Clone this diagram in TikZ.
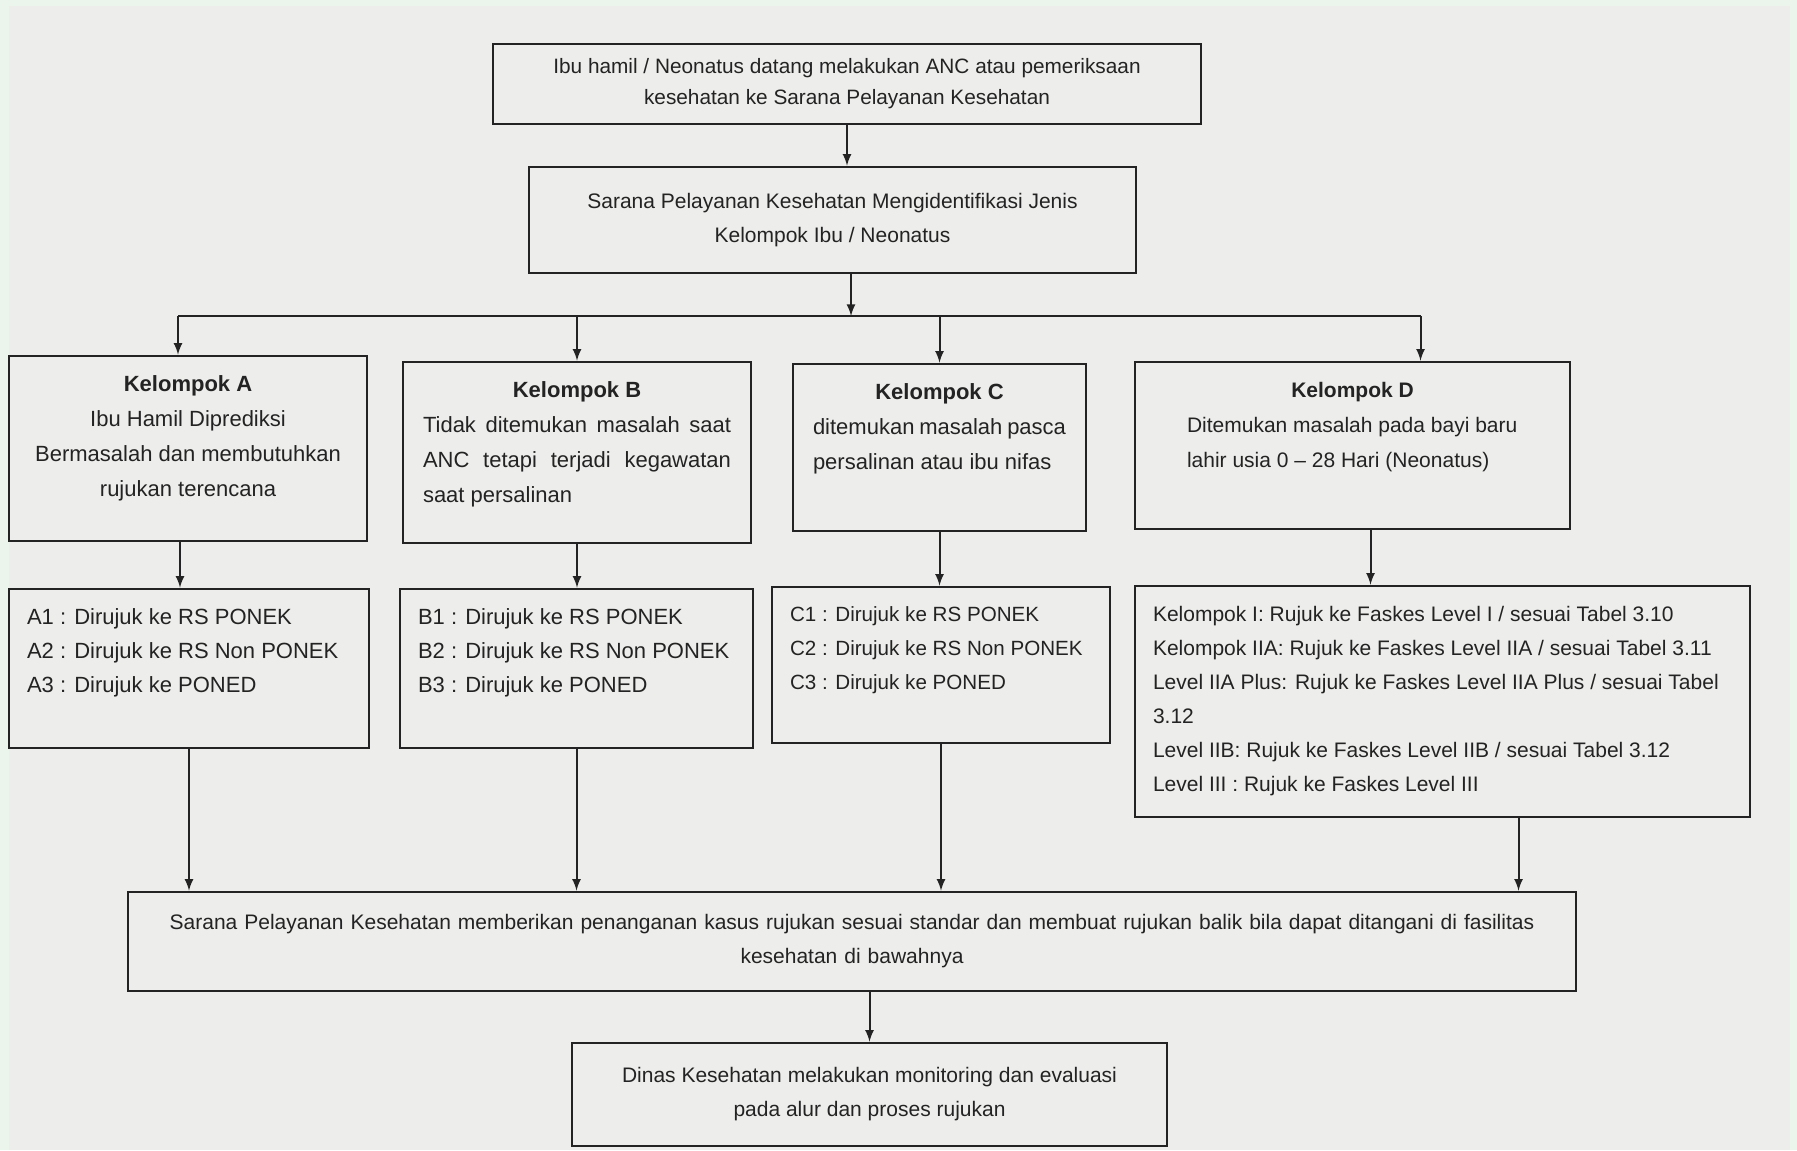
\documentclass[tikz,border=0pt]{standalone}
\usepackage{fontspec}
\setmainfont{Liberation Sans}
\hyphenpenalty=10000
\exhyphenpenalty=10000
\definecolor{kertas}{RGB}{237,237,235}
\definecolor{bingkai}{RGB}{236,245,236}
\definecolor{tinta}{RGB}{35,35,35}
\newcommand{\isikotak}[3]{\parbox[c][#2][t]{#1}{#3}}

\tikzstyle{kotak} = [draw=tinta, line width=1.3pt, rectangle, inner xsep=10pt, inner ysep=10pt, text=tinta, font=\fontsize{11}{17.5}\selectfont]
\tikzstyle{kotaktengah} = [kotak, align=center]
\tikzstyle{daftar} = [kotak, inner xsep=9pt, font=\fontsize{11}{17}\selectfont]
\tikzstyle{panah} = [draw=tinta, line width=1pt, -latex]
\tikzstyle{garis} = [draw=tinta, line width=1pt]

\begin{document}
\begin{tikzpicture}[x=0.5pt,y=-0.5pt]
	% latar foto
	\fill[bingkai] (0,0) rectangle (1797,1150);
	\fill[kertas] (9,6) rectangle (1790,1150);
	\useasboundingbox (0,0) rectangle (1797,1150);

	\node[kotaktengah, inner ysep=4pt, font=\fontsize{10.4}{15.5}\selectfont, minimum width=354pt, minimum height=40pt] (datang) at (847,84) {Ibu hamil / Neonatus datang melakukan ANC atau pemeriksaan\\ kesehatan ke Sarana Pelayanan Kesehatan};
	\node[kotaktengah, font=\fontsize{10.5}{17}\selectfont, minimum width=303.5pt, minimum height=53pt] (identifikasi) at (832.5,220) {Sarana Pelayanan Kesehatan Mengidentifikasi Jenis\\ Kelompok Ibu / Neonatus};

	% kelompok
	\node[kotak] (kA) at (188,448.5) {\isikotak{159pt}{72.5pt}{\centering\textbf{Kelompok A}\\ Ibu Hamil Diprediksi\\ Bermasalah dan membutuhkan\\ rujukan terencana}};
	\node[kotak] (kB) at (577,452.5) {\isikotak{154pt}{70.5pt}{{\centering\textbf{Kelompok B}\par}
		Tidak ditemukan masalah saat\linebreak ANC tetapi terjadi kegawatan\linebreak saat persalinan}};
	\node[kotak] (kC) at (939.5,447.5) {\isikotak{126.5pt}{63.5pt}{{\centering\textbf{Kelompok C}\par}
		ditemukan masalah pasca\linebreak persalinan atau ibu nifas}};
	\node[kotak, font=\fontsize{10.5}{17.5}\selectfont] (kD) at (1352.5,445.5) {\isikotak{197.5pt}{63.5pt}{{\centering\textbf{Kelompok D}\par}
		\leftskip=16pt Ditemukan masalah pada bayi baru\\ lahir usia 0 – 28 Hari (Neonatus)}};

	% rujukan tiap kelompok
	\node[daftar] (lA) at (189,668.5) {\isikotak{162pt}{59.5pt}{\raggedright A1 : Dirujuk ke RS PONEK\\ A2 : Dirujuk ke RS Non PONEK\\ A3 : Dirujuk ke PONED}};
	\node[daftar] (lB) at (576.5,668.5) {\isikotak{158.5pt}{59.5pt}{\raggedright B1 : Dirujuk ke RS PONEK\\ B2 : Dirujuk ke RS Non PONEK\\ B3 : Dirujuk ke PONED}};
	\node[daftar, font=\fontsize{10.3}{17}\selectfont] (lC) at (941,665) {\isikotak{151pt}{58pt}{\raggedright C1 : Dirujuk ke RS PONEK\\ C2 : Dirujuk ke RS Non PONEK\\ C3 : Dirujuk ke PONED}};
	\node[daftar, font=\fontsize{10.5}{17}\selectfont] (lD) at (1442.5,701.5) {\isikotak{289.5pt}{95.5pt}{\raggedright Kelompok I: Rujuk ke Faskes Level I / sesuai Tabel 3.10\\ Kelompok IIA: Rujuk ke Faskes Level IIA / sesuai Tabel 3.11\\ Level IIA Plus: Rujuk ke Faskes Level IIA Plus / sesuai Tabel\\ 3.12\\ Level IIB: Rujuk ke Faskes Level IIB / sesuai Tabel 3.12\\ Level III : Rujuk ke Faskes Level III}};

	\node[kotaktengah, font=\fontsize{10.5}{17}\selectfont, text width=704pt, minimum height=49.5pt] (tangan) at (852,941.5) {Sarana Pelayanan Kesehatan memberikan penanganan kasus rujukan sesuai standar dan membuat rujukan balik bila dapat ditangani di fasilitas\\ kesehatan di bawahnya};
	\node[kotaktengah, font=\fontsize{10.5}{17}\selectfont, minimum width=297.5pt, minimum height=51.5pt] (monev) at (869.5,1094.5) {Dinas Kesehatan melakukan monitoring dan evaluasi\\ pada alur dan proses rujukan};

	% panah
	\coordinate (cabang) at (851,316);
	\draw[panah] (datang.south) -- (datang.south |- identifikasi.north);
	\draw[panah] (cabang |- identifikasi.south) -- (cabang);
	\draw[garis] ([xshift=-5pt]kA.north |- cabang) -- ([xshift=34pt]kD.north |- cabang);
	\draw[panah] ([xshift=-5pt]kA.north |- cabang) -- ([xshift=-5pt]kA.north);
	\draw[panah] ([xshift=-4pt]kA.south) -- ([xshift=-4pt]kA.south |- lA.north);
	\foreach \k/\l in {kB/lB,kC/lC}{
		\draw[panah] (\k.north |- cabang) -- (\k.north);
		\draw[panah] (\k.south) -- (\k.south |- \l.north);
	}
	\foreach \l in {lA,lB,lC}
		\draw[panah] (\l.south) -- (\l.south |- tangan.north);
	\draw[panah] ([xshift=34pt]kD.north |- cabang) -- ([xshift=34pt]kD.north);
	\draw[panah] ([xshift=9pt]kD.south) -- ([xshift=9pt]kD.south |- lD.north);
	\draw[panah] ([xshift=38pt]lD.south) -- ([xshift=38pt]lD.south |- tangan.north);
	\draw[panah] (monev.north |- tangan.south) -- (monev.north);
\end{tikzpicture}
\end{document}
